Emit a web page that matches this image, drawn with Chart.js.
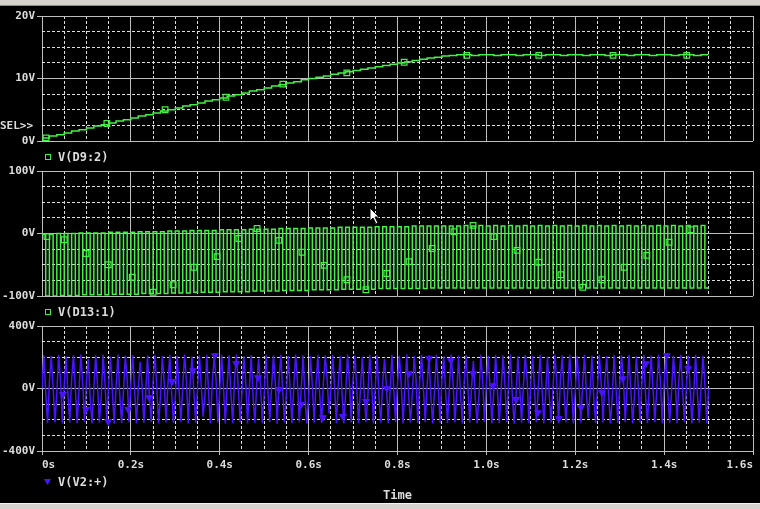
<!DOCTYPE html>
<html>
<head>
<meta charset="utf-8">
<script src="https://cdn.jsdelivr.net/npm/chart.js@4.4.1/dist/chart.umd.min.js"></script>
<style>
  body { margin: 0; background: #000; width: 760px; height: 509px; overflow: hidden; position: relative;
         font-family: "DejaVu Sans Mono", monospace; font-weight: bold; color: #dcdcdc; }
  canvas { position: absolute; left: 0; }
  .txt { position: absolute; font-size: 12px; line-height: 14px; white-space: pre; }
  .sq { position: absolute; width: 4px; height: 4px; border: 1px solid #44f044; }
  .bar { position: absolute; left: 0; width: 760px; background: #d6d3ce; }
</style>
</head>
<body>
<div class="bar" style="top:0;height:5px;border-bottom:1px solid #8a8a8a"></div>

<canvas id="topChart" width="760" height="150" style="top:0"></canvas>
<canvas id="midChart" width="760" height="150" style="top:155px"></canvas>
<canvas id="botChart" width="760" height="199" style="top:310px"></canvas>

<div class="txt" style="left:0;top:119px;font-size:11px">SEL&gt;&gt;</div>
<span class="sq" style="left:45px;top:154px"></span>
<div class="txt" style="left:58px;top:150px">V(D9:2)</div>
<span class="sq" style="left:45px;top:309px"></span>
<div class="txt" style="left:58px;top:305px">V(D13:1)</div>
<svg style="position:absolute;left:44px;top:479px" width="8" height="7"><polygon points="0,0 7,0 3.5,6" fill="#4a14ff"/></svg>
<div class="txt" style="left:58px;top:475px">V(V2:+)</div>

<svg style="position:absolute;left:369px;top:207px" width="12" height="18">
  <polygon points="1,1 1,14 4,11 7,17 9,16 6,10 10,10" fill="#fff" stroke="#000" stroke-width="1"/>
</svg>
<div class="bar" style="top:503px;height:6px;border-top:1px solid #f4f4f4"></div>

<script>
const cycle = 1 / 60;          // 60 Hz line period (s)
const timeMax = 1.6;
const timeMajor = 0.2;
const timeMinor = 0.05;

// V(D9:2): one value per line cycle, 0 .. 1.5 s
const d9Values = [
  0.5, 0.8, 1.0, 1.3, 1.6, 1.8, 2.1, 2.4, 2.6, 2.9,
  3.2, 3.4, 3.7, 4.0, 4.2, 4.5, 4.8, 5.0, 5.3, 5.6,
  5.8, 6.1, 6.4, 6.6, 6.9, 7.2, 7.4, 7.7, 8.0, 8.2,
  8.5, 8.8, 9.0, 9.3, 9.5, 9.8, 10.0, 10.2, 10.4, 10.7,
  10.9, 11.1, 11.3, 11.5, 11.7, 11.9, 12.1, 12.3, 12.5, 12.7,
  12.9, 13.1, 13.3, 13.4, 13.6, 13.7, 13.8, 13.8, 13.7, 13.8,
  13.8, 13.7, 13.8, 13.8, 13.7, 13.8, 13.8, 13.7, 13.8, 13.8,
  13.7, 13.8, 13.8, 13.7, 13.8, 13.8, 13.7, 13.8, 13.8, 13.7,
  13.8, 13.8, 13.7, 13.8, 13.8, 13.7, 13.8, 13.8, 13.7, 13.8,
  13.8
];
const d9MarkTimes = [0.009, 0.146, 0.277, 0.414, 0.542, 0.686, 0.815, 0.956, 1.118, 1.285, 1.451];
const d9MarkValues = [0.5, 2.8, 5.0, 7.0, 9.1, 10.9, 12.6, 13.7, 13.7, 13.7, 13.7];

// V(D13:1): high / low level of each half cycle
const d13Values = [
  -1,-100, -1,-100, 0,-99, 0,-99, 0,-99, 1,-98, 1,-98, 1,-98, 1,-98, 2,-97,
  2,-97, 2,-97, 2,-97, 3,-96, 3,-96, 3,-96, 3,-96, 4,-95, 4,-95, 4,-95,
  5,-94, 5,-94, 5,-94, 5,-94, 6,-93, 6,-93, 6,-93, 6,-93, 7,-92, 7,-92,
  7,-92, 7,-92, 8,-91, 8,-91, 8,-91, 8,-91, 9,-90, 9,-90, 9,-90, 9,-90,
  10,-89, 10,-89, 10,-89, 10,-89, 10,-89, 11,-88, 11,-88, 11,-88, 11,-88, 11,-88,
  12,-88, 12,-88, 12,-87, 12,-87, 12,-87, 12,-87, 12,-87, 13,-87, 12,-87, 13,-87,
  12,-87, 13,-87, 12,-87, 13,-87, 12,-87, 13,-87, 12,-87, 13,-87, 12,-87, 13,-87,
  12,-87, 13,-87, 12,-87, 13,-87, 12,-87, 13,-87, 12,-87, 13,-87, 12,-87, 13,-87,
  12,-87, 13,-87, 12,-87, 13,-87, 12,-87, 13,-87, 12,-87, 13,-87, 12,-87, 13,-87,
  -87
];
const d13MarkTimes = [
  0.011, 0.050, 0.099, 0.149, 0.203, 0.250, 0.295, 0.342, 0.394, 0.443, 0.484,
  0.533, 0.585, 0.635, 0.686, 0.729, 0.776, 0.826, 0.878, 0.927, 0.970, 1.017,
  1.069, 1.118, 1.168, 1.217, 1.260, 1.310, 1.361, 1.411, 1.460
];
const d13MarkValues = [
  -5, -10, -32, -50, -70, -94, -82, -54, -37, -8, 8,
  -11, -30, -51, -74, -90, -64, -45, -24, 3, 13, -5,
  -27, -46, -66, -86, -74, -54, -35, -14, 6
];

// V(V2:+): four samples per line cycle
const v2Values = [
  0,214,-20,-221, 40,210,10,-218, -30,216,50,-224, 20,206,-40,-217, 60,213,0,-222,
  -10,218,30,-215, 50,190,-60,-223, 0,212,20,-219, -50,215,40,-210, 30,205,-20,-225,
  10,217,-40,-220, -20,209,60,-216, 40,214,-10,-222, 0,170,30,-219, -30,212,-50,-214,
  50,216,10,-224, -40,208,40,-218, 20,215,-30,-221, -60,211,0,-215, 10,218,50,-223,
  30,204,-20,-219, 0,213,20,-180, -50,216,-40,-222, 40,209,60,-217, -10,215,10,-224,
  20,212,-30,-220, 60,217,0,-216, -20,206,50,-223, 0,214,-60,-219, 40,192,20,-221,
  -40,216,-10,-214, 10,211,40,-225, 50,215,-20,-218, -30,208,0,-222, 20,218,30,-216,
  0,213,-50,-223, -60,207,20,-219, 30,216,-40,-221, 40,211,60,-160, -10,215,10,-220,
  20,209,-20,-224, -30,217,50,-217, 60,212,0,-222, 0,205,-30,-215, -50,216,40,-223,
  10,214,-60,-219, 40,188,20,-221, -20,215,-10,-216, 30,210,30,-224, 0,217,-40,-218,
  -40,208,60,-222, 50,216,0,-215, 20,212,-50,-223, -10,215,10,-219, 60,206,-20,-221,
  0,218,40,-217, -30,211,-30,-224, 40,214,20,-218, 10,175,-60,-222, -50,216,50,-215,
  30,209,0,-223, -20,215,-20,-220, 0,213,30,-216, 50,217,-40,-225, -60,207,10,-219,
  20,214,60,-221, 40,210,-10,-215, -10,216,20,-223, -40,205,-50,-218, 10,218,40,-222,
  60,212,-30,-216, 0,215,0,-224, -20,209,50,-219, 30,216,-20,-190, -30,211,-60,-221,
  10,217,30,-217, 50,208,-40,-223, -50,214,10,-220, 20,212,60,-215, 0,216,-10,-224,
  -40,206,20,-218, 40,215,-50,-222, 10,211,0,-216, -10,218,40,-223, 30,213,-30,-219,
  -20,209,50,-221, 60,216,-20,-215, 0,212,10,-224, -30,215,-40,-218, 20,210,30,-220,
  0
];
const v2MarkTimes = [
  0.047, 0.099, 0.149, 0.194, 0.241, 0.293, 0.340, 0.389, 0.437, 0.486,
  0.533, 0.583, 0.632, 0.677, 0.729, 0.776, 0.826, 0.871, 0.920, 0.970,
  1.015, 1.067, 1.116, 1.163, 1.213, 1.260, 1.307, 1.359, 1.406, 1.454
];
const v2MarkValues = [
  -38, -134, -211, -134, -58, 45, 115, 211, 160, 70,
  -6, -102, -186, -179, -83, 0, 96, 192, 179, 96,
  19, -70, -154, -192, -122, -26, 64, 160, 211, 128
];

const green = '#44f044';
const blue = '#4a14ff';
const solidGrid = '#bdbdbd';
const dashGrid = '#dedede';
const labelColor = '#dcdcdc';
const labelFont = { family: 'DejaVu Sans Mono', size: 11, weight: 'bold' };

function series(values, step) {
  return values.map((v, i) => ({ x: i * step, y: v }));
}

function marks(times, values) {
  return times.map((t, i) => ({ x: t, y: values[i] }));
}

function onStep(v, step) {
  return Math.abs(v / step - Math.round(v / step)) < 1e-6;
}

function traceSet(data, color, stepped) {
  return { data, borderColor: color, borderWidth: 1.5, pointRadius: 0, stepped, tension: 0 };
}

function markSet(data, color, style) {
  return {
    data, showLine: false, borderColor: color, borderWidth: 1.2,
    backgroundColor: style === 'rect' ? 'rgba(0,0,0,0)' : color,
    pointStyle: style, pointRadius: style === 'rect' ? 4 : 3.5,
    pointRotation: style === 'triangle' ? 180 : 0
  };
}

function makeScales(yMin, yMax, showTime) {
  const yMajor = (yMax - yMin) / 2;
  const yMinor = (yMax - yMin) / 8;
  return {
    x: {
      type: 'linear', min: 0, max: timeMax, position: 'bottom',
      grid: { color: solidGrid, drawTicks: showTime, tickLength: 4, tickColor: solidGrid },
      border: { display: false },
      ticks: {
        display: showTime, stepSize: timeMajor, autoSkip: false, maxRotation: 0, align: 'inner',
        padding: 4, color: labelColor, font: labelFont,
        callback: v => v === 0 ? '0s' : v.toFixed(1) + 's'
      },
      title: { display: showTime, text: 'Time', color: labelColor, font: { ...labelFont, size: 12 }, padding: 0 },
      afterFit: s => { s.height = showTime ? 52 : 0; s.paddingLeft = 0; s.paddingRight = 0; }
    },
    xMinor: {
      type: 'linear', min: 0, max: timeMax, position: 'bottom',
      grid: { color: c => onStep(c.tick.value, timeMajor) ? 'rgba(0,0,0,0)' : dashGrid, drawTicks: false },
      border: { display: false, dash: [3, 2] },
      ticks: { display: false, stepSize: timeMinor, autoSkip: false, maxTicksLimit: 100 },
      afterFit: s => { s.height = 0; s.paddingLeft = 0; s.paddingRight = 0; }
    },
    y: {
      type: 'linear', min: yMin, max: yMax, position: 'left',
      grid: { color: solidGrid, drawTicks: true, tickLength: 5, tickColor: solidGrid },
      border: { display: false },
      ticks: { stepSize: yMajor, padding: 2, color: labelColor, font: labelFont, callback: v => v + 'V' },
      afterFit: s => { s.width = 42; s.paddingTop = 0; s.paddingBottom = 0; }
    },
    yMinor: {
      type: 'linear', min: yMin, max: yMax, position: 'left',
      grid: { color: c => onStep(c.tick.value, yMajor) ? 'rgba(0,0,0,0)' : dashGrid, drawTicks: false },
      border: { display: false, dash: [3, 2] },
      ticks: { display: false, stepSize: yMinor, maxTicksLimit: 100 },
      afterFit: s => { s.width = 0; s.paddingTop = 0; s.paddingBottom = 0; }
    }
  };
}

function makeChart(id, datasets, yMin, yMax, showTime, padBottom) {
  return new Chart(document.getElementById(id), {
    type: 'line',
    data: { datasets },
    options: {
      responsive: false,
      animation: false,
      events: [],
      layout: { padding: { top: 16, right: 7, bottom: padBottom, left: 0 } },
      plugins: { legend: { display: false }, tooltip: { enabled: false } },
      scales: makeScales(yMin, yMax, showTime)
    }
  });
}

makeChart('topChart', [
  traceSet(series(d9Values, cycle), green, true),
  markSet(marks(d9MarkTimes, d9MarkValues), green, 'rect')
], 0, 20, false, 9);

makeChart('midChart', [
  traceSet(series(d13Values, cycle / 2), green, true),
  markSet(marks(d13MarkTimes, d13MarkValues), green, 'rect')
], -100, 100, false, 9);

makeChart('botChart', [
  traceSet(series(v2Values, cycle / 4), blue, false),
  markSet(marks(v2MarkTimes, v2MarkValues), blue, 'triangle')
], -400, 400, true, 6);
</script>
</body>
</html>
